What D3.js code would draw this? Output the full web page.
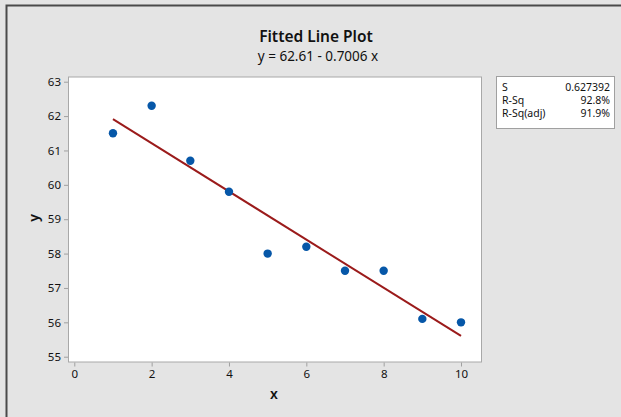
<!DOCTYPE html>
<html><head><meta charset="utf-8">
<script src="https://cdn.jsdelivr.net/npm/d3@7"></script>
<style>body{margin:0;background:#e4e4e4;}svg{display:block;}</style>
</head><body>
<svg id="c" width="621" height="417"></svg>
<script>
const xValues = [1,2,3,4,5,6,7,8,9,10];
const yValues = [61.5,62.3,60.7,59.8,58.0,58.2,57.5,57.5,56.1,56.0];
const intercept = 62.61, slope = -0.7006;
const xTicks = [0,2,4,6,8,10];
const yTicks = [55,56,57,58,59,60,61,62,63];
const statLabels = ["S","R-Sq","R-Sq(adj)"];
const statValues = ["0.627392","92.8%","91.9%"];

const svg = d3.select("#c");
const font = "'Noto Sans', 'Open Sans', sans-serif";
svg.append("rect").attr("x",0).attr("y",0).attr("width",621).attr("height",417).attr("fill","#e4e4e4");
// outer frame
svg.append("path").attr("d","M6.5,417 V5.5 H621").attr("fill","none").attr("stroke","#4a4a4a").attr("stroke-width",2);

const L=68.5, R=481.5, T=77, B=362;
const x = d3.scaleLinear().domain([-0.15,10.53]).range([L,R]);
const y = d3.scaleLinear().domain([54.846,63.137]).range([B,T]);

svg.append("rect").attr("x",L).attr("y",T).attr("width",R-L).attr("height",B-T).attr("fill","#fff").attr("stroke","#a8a8a8").attr("stroke-width",1);

const gx = svg.append("g").attr("transform",`translate(0,${B+0.5})`)
  .call(d3.axisBottom(x).tickValues(xTicks).tickSize(4).tickPadding(3).tickFormat(d3.format("d")));
const gy = svg.append("g").attr("transform",`translate(${L-0.5},0)`)
  .call(d3.axisLeft(y).tickValues(yTicks).tickSize(4).tickPadding(3).tickFormat(d3.format("d")));
[gx,gy].forEach(g=>{
  g.select(".domain").remove();
  g.selectAll(".tick line").attr("stroke","#a0a0a0");
  g.selectAll(".tick text").attr("fill","#111").style("font-family",font).style("font-size","11.5px");
});

// fitted line
svg.append("line")
  .attr("x1",x(1)).attr("y1",y(intercept+slope*1))
  .attr("x2",x(10)).attr("y2",y(intercept+slope*10))
  .attr("stroke","#9b1b1b").attr("stroke-width",2);

svg.selectAll("circle.pt").data(xValues).enter().append("circle")
  .attr("class","pt").attr("cx",d=>x(d)).attr("cy",(d,i)=>y(yValues[i])).attr("r",4.2)
  .attr("fill","#0657a8");

// titles
svg.append("text").attr("x",316).attr("y",42).attr("text-anchor","middle")
  .style("font-family",font).style("font-size","15.5px").style("font-weight","600").attr("fill","#111")
  .text("Fitted Line Plot");
svg.append("text").attr("x",318).attr("y",61).attr("text-anchor","middle")
  .style("font-family",font).style("font-size","13.5px").attr("fill","#111")
  .text("y = 62.61 - 0.7006 x");

svg.append("text").attr("x",274).attr("y",399).attr("text-anchor","middle")
  .style("font-family",font).style("font-size","14px").style("font-weight","600").attr("fill","#111").text("x");
svg.append("text").attr("transform","translate(39,218) rotate(-90)").attr("text-anchor","middle")
  .style("font-family",font).style("font-size","14px").style("font-weight","600").attr("fill","#111").text("y");

// stats box
svg.append("rect").attr("x",496.5).attr("y",76.5).attr("width",118).attr("height",52)
  .attr("fill","#fff").attr("stroke","#a0a0a0");
statLabels.forEach((s,i)=>{
  svg.append("text").attr("x",502).attr("y",91+i*13).style("font-family",font).style("font-size","10.5px").attr("fill","#111").text(s);
  svg.append("text").attr("x",610).attr("y",91+i*13).attr("text-anchor","end").style("font-family",font).style("font-size","10.5px").attr("fill","#111").text(statValues[i]);
});
</script>
</body></html>
